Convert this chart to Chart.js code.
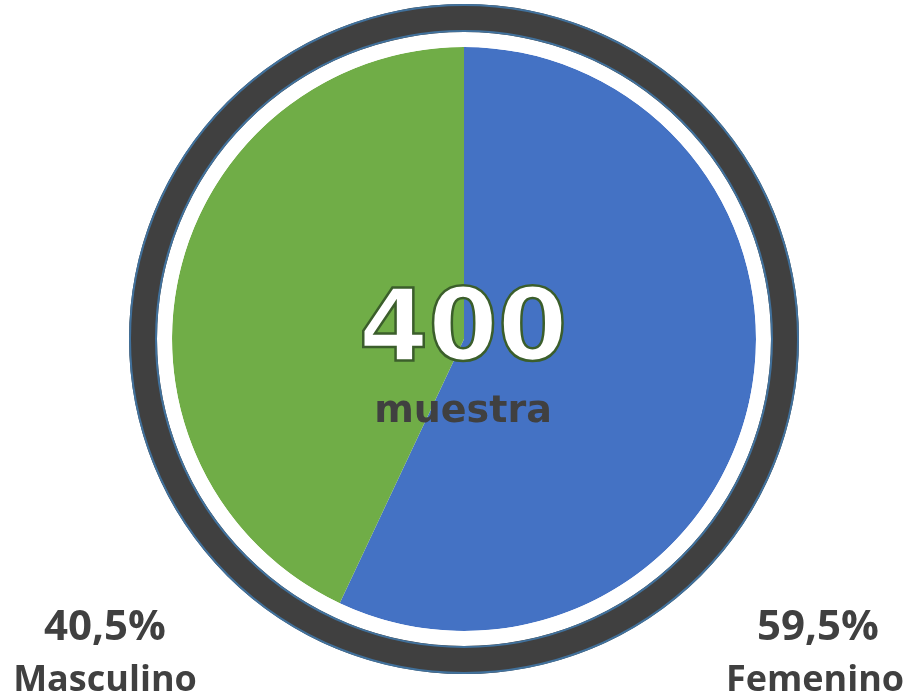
<!DOCTYPE html>
<html>
<head>
<meta charset="utf-8">
<script src="https://cdn.jsdelivr.net/npm/chart.js@4/dist/chart.umd.min.js"></script>
<style>
  html, body { margin: 0; padding: 0; background: #fff; }
  #wrap { position: relative; width: 912px; height: 699px; overflow: hidden; }
  .lbl { position: absolute; color: #404040; font-family: 'Open Sans', 'Noto Sans', sans-serif;
         font-weight: 700; text-align: center; white-space: nowrap; line-height: 1; }
  .pct { font-size: 42px; }
  .name { font-size: 36px; }
  #big { position: absolute; left: 263px; width: 400px; top: 276px; text-align: center;
         font-family: 'DejaVu Sans', sans-serif; font-weight: 700; font-size: 100px; line-height: 1;
         color: #fff; -webkit-text-stroke: 2.5px #3b5e2b; }
  #sub { position: absolute; left: 263px; width: 400px; top: 390px; text-align: center;
         font-family: 'DejaVu Sans', sans-serif; font-weight: 700; font-size: 38px; line-height: 1;
         color: #404040; }
</style>
</head>
<body>
<div id="wrap">
  <canvas id="pieChart" width="912" height="699"></canvas>
  <div id="big"></div>
  <div id="sub"></div>
  <div class="lbl pct" id="pctL" style="left:5px; width:200px; top:603px;"></div>
  <div class="lbl name" id="nameL" style="left:5px; width:200px; top:660px;"></div>
  <div class="lbl pct" id="pctR" style="left:718px; width:200px; top:603px;"></div>
  <div class="lbl name" id="nameR" style="left:715px; width:200px; top:660px;"></div>
</div>
<script>
  // slices as drawn (blue first, clockwise from top)
  const categories = ['Femenino', 'Masculino'];
  const shares = [57, 43];
  const pctLabels = ['59,5%', '40,5%'];
  const sliceColors = ['#4472c4', '#70ad47'];
  const sampleSize = '400';
  const sampleText = 'muestra';

  document.getElementById('big').textContent = sampleSize;
  document.getElementById('sub').textContent = sampleText;
  document.getElementById('pctR').textContent = pctLabels[0];
  document.getElementById('nameR').textContent = categories[0];
  document.getElementById('pctL').textContent = pctLabels[1];
  document.getElementById('nameL').textContent = categories[1];

  /* thin blue edges on the outer ring */
  const ringEdges = {
    id: 'ringEdges',
    afterDatasetsDraw(chart) {
      const arc = chart.getDatasetMeta(0).data[0];
      if (!arc) return;
      const ctx = chart.ctx;
      ctx.save();
      ctx.strokeStyle = '#41719c';
      ctx.lineWidth = 2;
      [arc.outerRadius - 1, arc.innerRadius + 1].forEach(r => {
        ctx.beginPath();
        ctx.arc(arc.x, arc.y, r, 0, Math.PI * 2);
        ctx.stroke();
      });
      ctx.restore();
    }
  };

  new Chart(document.getElementById('pieChart').getContext('2d'), {
    type: 'doughnut',
    data: {
      labels: categories,
      datasets: [
        { data: [1], backgroundColor: ['#404040'], borderWidth: 0, weight: 28, hoverOffset: 0 },
        { data: [1], backgroundColor: ['#ffffff'], borderWidth: 0, weight: 15, hoverOffset: 0 },
        { data: shares, backgroundColor: sliceColors, borderWidth: 0, weight: 292, hoverOffset: 0 }
      ]
    },
    options: {
      responsive: false,
      animation: false,
      cutout: 0,
      layout: { padding: { left: 129, right: 113, top: 4, bottom: 25 } },
      plugins: { legend: { display: false }, tooltip: { enabled: false } }
    },
    plugins: [ringEdges]
  });
</script>
</body>
</html>
